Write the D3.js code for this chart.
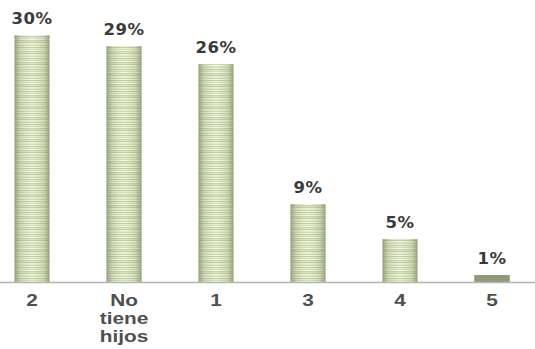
<!DOCTYPE html>
<html>
<head>
<meta charset="utf-8">
<script src="https://cdnjs.cloudflare.com/ajax/libs/d3/7.8.5/d3.min.js"></script>
<style>
  body { margin: 0; background: #fff; }
</style>
</head>
<body>
<script>
// categories and values
const categories = ["2", "No tiene hijos", "1", "3", "4", "5"];
const catLines = [["2"], ["No", "tiene", "hijos"], ["1"], ["3"], ["4"], ["5"]];
const values = [29.9, 28.6, 26.4, 9.45, 5.2, 0.85];
const valueLabels = ["30%", "29%", "26%", "9%", "5%", "1%"];

const w = 535;
const h = 349;
const base = 282;
const barW = 35;

const svg = d3.select("body")
  .append("svg")
  .attr("width", w)
  .attr("height", h);

const defs = svg.append("defs");

// horizontal stripes
const pat = defs.append("pattern")
  .attr("id", "stripes")
  .attr("patternUnits", "userSpaceOnUse")
  .attr("width", 10)
  .attr("height", 11);
const stripeCols = ["#dfe8c6", "#c9d6a6", "#eef3dd", "#b9c895", "#e4ebcc", "#cdd9ad", "#f2f6e4", "#c2cf9f", "#d8e2ba", "#bccb98", "#e9efd6"];
stripeCols.forEach((c, i) => {
  pat.append("rect").attr("x", 0).attr("y", i).attr("width", 10).attr("height", 1).attr("fill", c);
});

// darker edges
const grad = defs.append("linearGradient")
  .attr("id", "edges")
  .attr("x1", "0%").attr("x2", "100%").attr("y1", "0%").attr("y2", "0%");
grad.append("stop").attr("offset", "0%").attr("stop-color", "#7f8c66").attr("stop-opacity", 0.75);
grad.append("stop").attr("offset", "18%").attr("stop-color", "#9aa880").attr("stop-opacity", 0.25);
grad.append("stop").attr("offset", "50%").attr("stop-color", "#ffffff").attr("stop-opacity", 0.15);
grad.append("stop").attr("offset", "82%").attr("stop-color", "#9aa880").attr("stop-opacity", 0.25);
grad.append("stop").attr("offset", "100%").attr("stop-color", "#7f8c66").attr("stop-opacity", 0.75);

const x = d3.scalePoint()
  .domain(categories)
  .range([32, 492]);

const y = d3.scaleLinear()
  .domain([0, 30])
  .range([base, 34.5]);

const bars = svg.selectAll("g.bar")
  .data(values)
  .enter()
  .append("g")
  .attr("class", "bar");

bars.append("rect")
  .attr("x", (d, i) => x(categories[i]) - barW / 2)
  .attr("y", d => y(d))
  .attr("width", barW)
  .attr("height", d => base - y(d))
  .attr("fill", "url(#stripes)");

bars.append("rect")
  .attr("x", (d, i) => x(categories[i]) - barW / 2)
  .attr("y", d => y(d))
  .attr("width", barW)
  .attr("height", d => base - y(d))
  .attr("fill", "url(#edges)");

// small bar looks solid gray-green
bars.filter(d => d < 2).selectAll("rect")
  .attr("fill", "#8e9a78");

svg.append("line")
  .attr("x1", 0)
  .attr("x2", w)
  .attr("y1", base + 0.5)
  .attr("y2", base + 0.5)
  .attr("stroke", "#b4b4b4")
  .attr("stroke-width", 1.5);

svg.selectAll("text.val")
  .data(values)
  .enter()
  .append("text")
  .attr("class", "val")
  .attr("x", (d, i) => x(categories[i]))
  .attr("y", d => y(d) - 11)
  .attr("text-anchor", "middle")
  .attr("font-family", "DejaVu Sans, Verdana, sans-serif")
  .attr("font-weight", "bold")
  .attr("font-size", 16.5)
  .attr("letter-spacing", 0.5)
  .attr("fill", "#3a3a3a")
  .text((d, i) => valueLabels[i]);

// category labels look horizontally stretched
const cats = svg.selectAll("text.cat")
  .data(catLines)
  .enter()
  .append("text")
  .attr("class", "cat")
  .attr("transform", (d, i) => `translate(${x(categories[i])},0) scale(1.3,1)`)
  .attr("text-anchor", "middle")
  .attr("font-family", "Liberation Sans, Arial, sans-serif")
  .attr("font-weight", "bold")
  .attr("font-size", 16)
  .attr("fill", "#4f4f4f");

cats.selectAll("tspan")
  .data(d => d)
  .enter()
  .append("tspan")
  .attr("x", 0)
  .attr("y", (d, j) => 306 + j * 18)
  .text(d => d);
</script>
</body>
</html>
